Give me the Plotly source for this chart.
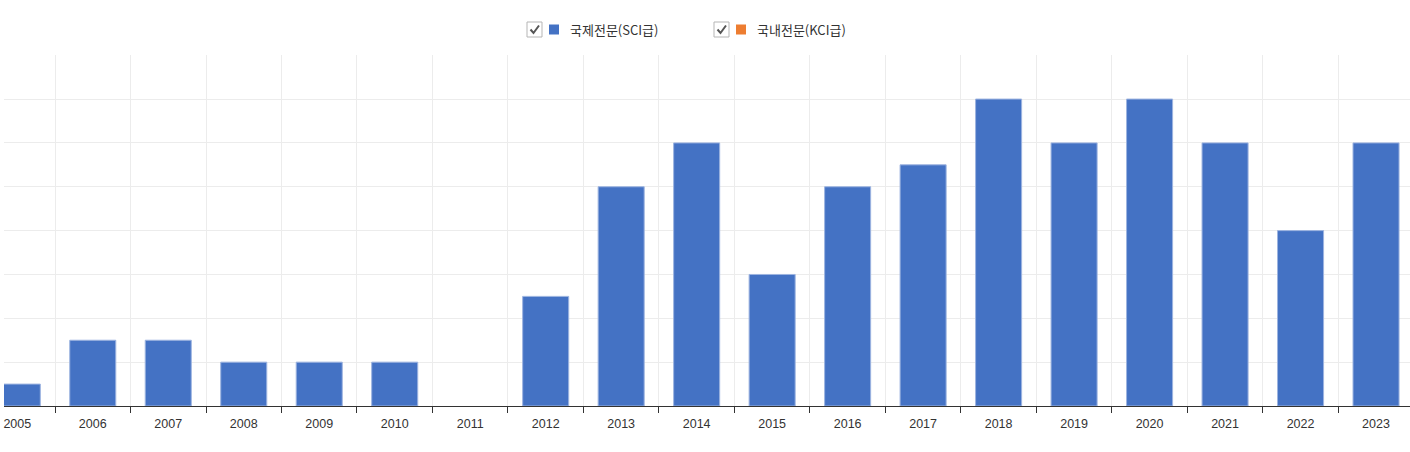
import plotly.graph_objects as go

years = [str(y) for y in range(2005, 2024)]
sci_counts = [1, 3, 3, 2, 2, 2, 0, 5, 10, 12, 6, 10, 11, 14, 12, 14, 12, 8, 12]
series_names = ["국제전문(SCI급)", "국내전문(KCI급)"]
series_colors = ["#4472C4", "#ED7D31"]

W, H = 1410, 452
L, R, T, B = 4, 0, 55, 46
PW, PH = W - L - R, H - T - B


def px(x):
    return (x - L) / PW


def py(y):
    return (H - B - y) / PH


fig = go.Figure()
fig.add_trace(go.Bar(
    x=years, y=sci_counts, name=series_names[0],
    marker=dict(color=series_colors[0],
                line=dict(color="#9db4e0", width=[0 if v == 0 else 1 for v in sci_counts])),
    showlegend=False, hoverinfo="x+y",
))

shapes = []
annotations = []
legend_x = [527, 714]
for i, (name, color) in enumerate(zip(series_names, series_colors)):
    x0 = legend_x[i]
    shapes.append(dict(type="rect", xref="paper", yref="paper",
                       x0=px(x0), x1=px(x0 + 15), y0=py(37), y1=py(22),
                       line=dict(color="#b5b5b5", width=1), fillcolor="#ffffff"))
    shapes.append(dict(type="path", xref="paper", yref="paper",
                       path=f"M {px(x0+3.5)},{py(29.5)} L {px(x0+6.5)},{py(33)} L {px(x0+12)},{py(25.5)}",
                       line=dict(color="#555555", width=2)))
    shapes.append(dict(type="rect", xref="paper", yref="paper",
                       x0=px(x0 + 22), x1=px(x0 + 32), y0=py(34.5), y1=py(24.5),
                       line=dict(width=0), fillcolor=color))
    annotations.append(dict(xref="paper", yref="paper", x=px(x0 + 41), y=py(30),
                            xanchor="left", yanchor="middle", showarrow=False,
                            text=name,
                            font=dict(family="Noto Sans CJK KR", size=13, color="#333333")))

fig.update_layout(
    width=W, height=H,
    margin=dict(l=L, r=R, t=T, b=B, pad=0, autoexpand=False),
    paper_bgcolor="#ffffff", plot_bgcolor="#ffffff",
    bargap=0.39,
    showlegend=False,
    shapes=shapes,
    annotations=annotations,
    font=dict(family="Liberation Sans, Arial", size=12, color="#333333"),
    xaxis=dict(
        type="category", range=[-0.176, 18.45], automargin=False,
        tickson="boundaries", ticks="outside", ticklen=6, tickcolor="#333333",
        ticklabelstandoff=6,
        showline=True, linecolor="#333333", linewidth=1,
        showgrid=True, gridcolor="#ececec", gridwidth=1,
        tickfont=dict(family="Liberation Sans, Arial", size=12.5, color="#333333"),
        fixedrange=True,
    ),
    yaxis=dict(
        range=[0, 16.01], dtick=2, showticklabels=False, automargin=False,
        showgrid=True, gridcolor="#ececec", gridwidth=1,
        zeroline=False, showline=False, fixedrange=True,
    ),
)

fig.write_html(
    "out.html",
    config={"displayModeBar": False},
    post_script="document.body.style.margin='0';document.body.style.overflow='hidden';",
)
